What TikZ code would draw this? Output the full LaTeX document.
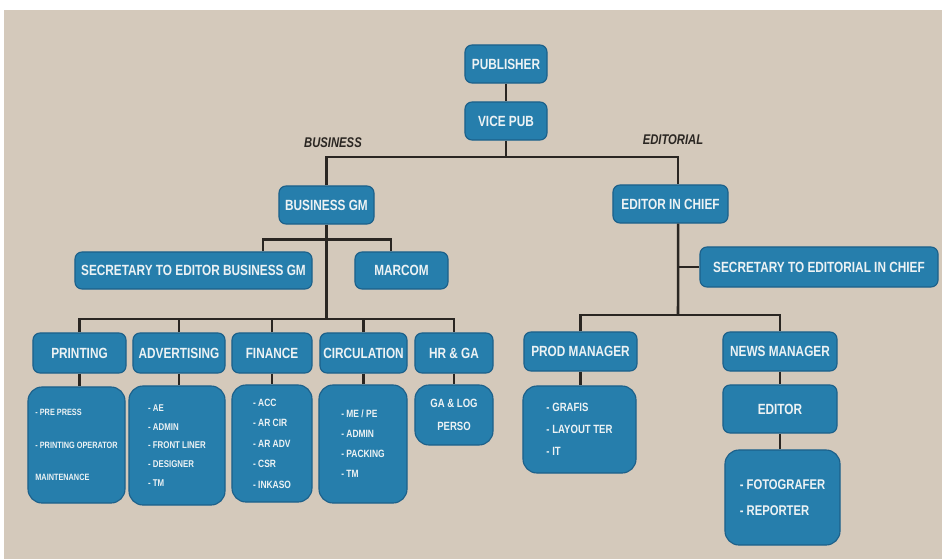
\documentclass[tikz,border=0pt]{standalone}
\usepackage{fontspec}
\setmainfont{Liberation Sans}[FakeStretch=0.8]
\usetikzlibrary{calc}
\definecolor{paper}{RGB}{212,201,187}
\definecolor{pblue}{RGB}{38,126,172}
\definecolor{pedge}{RGB}{28,96,138}
\definecolor{ptext}{RGB}{236,242,244}
\definecolor{ink}{RGB}{42,38,34}
\tikzset{
  box/.style={draw=pedge,fill=pblue,text=ptext,line width=0.8pt,rounded corners=5pt,align=center,font=\bfseries\fontsize{10.5}{12}\selectfont,inner sep=1pt},
  sub/.style args={#1/#2}{box,rounded corners=10pt,align=left,font=\bfseries\fontsize{#1}{#2}\selectfont},
  lbl/.style={text=ink,font=\bfseries\itshape\fontsize{10}{12}\selectfont,inner sep=1pt},
  wire/.style={draw=ink,line width=1.8pt}
}

\begin{document}
\begin{tikzpicture}[x=0.025cm,y=-0.025cm]
\useasboundingbox (0,0) rectangle (942,559);
\fill[white] (0,0) rectangle (942,559);
\fill[paper] (4,10) rectangle (942,559);
% top
\node[box,minimum width=2.05cm,minimum height=0.95cm] (pub) at (506,64) {PUBLISHER};
\node[box,minimum width=2.05cm,minimum height=0.95cm] (vp) at (506,121) {VICE PUB};
\node[lbl] (biz) at (333,143) {BUSINESS};
\node[lbl] (edt) at (673,140) {EDITORIAL};
\node[box,minimum width=2.375cm,minimum height=0.95cm] (bgm) at (326.5,205) {BUSINESS GM};
\node[box,minimum width=2.875cm,minimum height=0.95cm] (eic) at (670.5,204) {EDITOR IN CHIEF};
\node[box,minimum width=5.925cm,minimum height=0.925cm] (sb) at (193.5,270.5) {SECRETARY TO EDITOR BUSINESS GM};
\node[box,minimum width=2.325cm,minimum height=0.925cm] (mc) at (401.5,270.5) {MARCOM};
\node[box,minimum width=5.95cm,minimum height=1cm] (se) at (819,267) {SECRETARY TO EDITORIAL IN CHIEF};
% departments
\node[box,minimum width=2.325cm,minimum height=1cm] (prt) at (79.5,353) {PRINTING};
\node[box,minimum width=2.3cm,minimum height=1cm] (adv) at (179,353) {ADVERTISING};
\node[box,minimum width=2cm,minimum height=1cm] (fin) at (272,353) {FINANCE};
\node[box,minimum width=2.175cm,minimum height=1cm] (cir) at (363.5,353) {CIRCULATION};
\node[box,minimum width=1.95cm,minimum height=1cm] (hr) at (454,353) {HR \& GA};
\node[box,minimum width=2.825cm,minimum height=0.975cm] (pm) at (580.5,351.5) {PROD MANAGER};
\node[box,minimum width=2.85cm,minimum height=0.975cm] (nm) at (780,351.5) {NEWS MANAGER};
% staff
\node[sub=6.5/23,minimum width=2.425cm,minimum height=2.9cm] (prts) at (76.5,445) {- PRE PRESS\\- PRINTING OPERATOR\\MAINTENANCE};
\node[sub=7/13.2,minimum width=2.4cm,minimum height=2.975cm] (advs) at (177,445.5) {- AE\\- ADMIN\\- FRONT LINER\\- DESIGNER\\- TM};
\node[sub=7.5/14.6,minimum width=2cm,minimum height=2.925cm] (fins) at (272,443.5) {- ACC\\- AR CIR\\- AR ADV\\- CSR\\- INKASO};
\node[sub=7.5/14.3,minimum width=2.2cm,minimum height=2.95cm] (cirs) at (363,444) {- ME / PE\\- ADMIN\\- PACKING\\- TM};
\node[sub=8.5/16.5,align=center,minimum width=1.95cm,minimum height=1.5cm] (hrs) at (454,415) {GA \& LOG\\PERSO};
\node[sub=8.5/15.6,minimum width=2.825cm,minimum height=2.175cm] (pms) at (579.5,429.5) {- GRAFIS\\- LAYOUT TER\\- IT};
\node[box,minimum width=2.85cm,minimum height=1.2cm] (ed) at (780,409) {EDITOR};
\node[sub=10/18.5,minimum width=2.875cm,minimum height=2.375cm] (eds) at (782.5,497.5) {- FOTOGRAFER\\- REPORTER};
% links
\coordinate (top) at (506,157);
\coordinate (brow) at (326.5,319);
\coordinate (erow) at (678,315);
\draw[wire] (pub) -- (vp);
\draw[wire] (vp) -- (top);
\draw[wire] (bgm.north) |- (top) -| ([xshift=0.19cm]eic.north);
\draw[wire] (bgm.south) -- (brow);
\draw[wire] ([xshift=1.74cm]sb.north) -- ++(0,-12) -| ([xshift=-0.26cm]mc.north);
\draw[wire] (prt.north) |- (brow) -| (hr.north);
\foreach \d in {adv,fin,cir} \draw[wire] (\d.north) -- (\d.north |- brow);
\foreach \a/\b in {prt/prts,adv/advs,fin/fins,cir/cirs,hr/hrs,pm/pms,nm/ed,ed/eds}
  \draw[wire] (\a.south) -- (\a.south |- \b.north);
\draw[wire] ([xshift=0.19cm]eic.south) -- (erow);
\draw[wire] (pm.north) |- (erow) -| (nm.north);
\draw[wire] (erow |- se.west) -- (se.west);
\end{tikzpicture}
\end{document}
